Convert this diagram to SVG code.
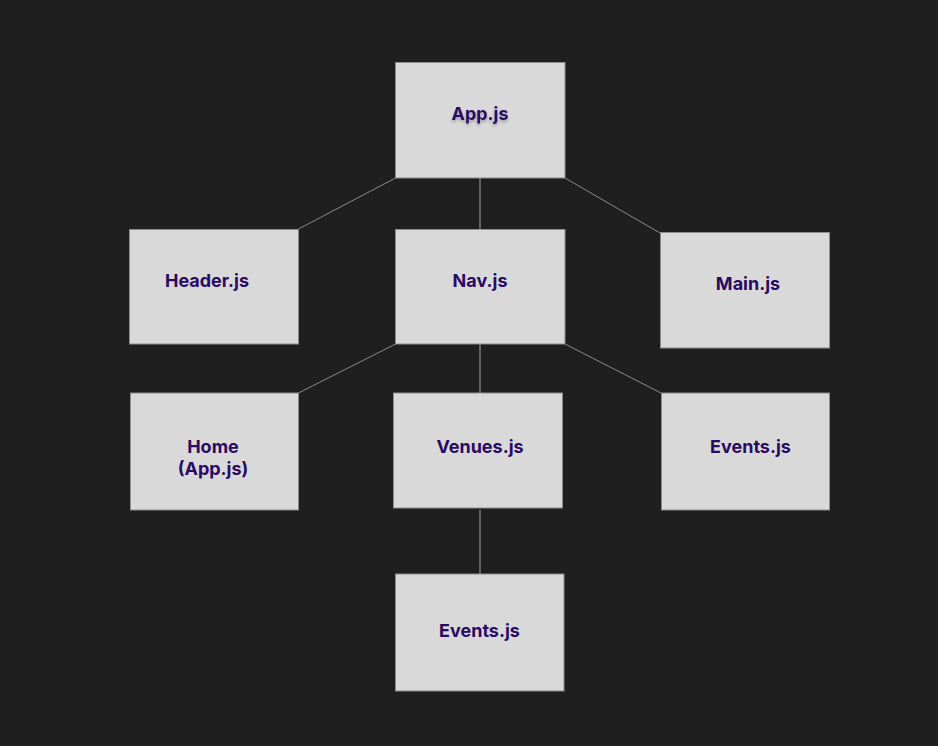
<svg xmlns="http://www.w3.org/2000/svg" width="938" height="746" viewBox="0 0 938 746">
<defs>
<style>
.box{fill:#d9d9d9;stroke:#8c8c8c;stroke-width:1}
.lbl{font-family:Inter,"Liberation Sans",sans-serif;font-weight:700;font-size:18px;fill:#2b0a62;text-anchor:middle}
.conn{stroke:#8a8a8a;stroke-width:1;fill:none}
.v{stroke:#7a7a7a;stroke-width:1.5}
</style>
<filter id="sh" x="-20%" y="-50%" width="140%" height="200%">
<feDropShadow dx="0" dy="2" stdDeviation="1.5" flood-color="#000" flood-opacity="0.3"/>
</filter>
</defs>
<rect width="938" height="746" fill="#1f1f1f"/>
<g id="connectors">
<line class="conn" x1="395.5" y1="178" x2="298.5" y2="229"/>
<line class="conn v" x1="480" y1="178" x2="480" y2="229"/>
<line class="conn" x1="565" y1="178" x2="660" y2="233"/>
<line class="conn" x1="395.5" y1="344" x2="298.5" y2="393"/>
<line class="conn v" x1="480" y1="344" x2="480" y2="393"/>
<line class="conn" x1="565" y1="344" x2="661" y2="393"/>
<line class="conn v" x1="480" y1="510" x2="480" y2="574"/>
</g>
<g id="app">
<rect class="box" x="395.5" y="62.5" width="169.5" height="115.5"/>
<text class="lbl" x="480" y="120" filter="url(#sh)">App.js</text>
</g>
<g id="header">
<rect class="box" x="129.5" y="229.5" width="169" height="114.5"/>
<text class="lbl" x="207" y="286.5">Header.js</text>
</g>
<g id="nav">
<rect class="box" x="395.5" y="229.5" width="169.5" height="114.5"/>
<text class="lbl" x="480" y="286.5">Nav.js</text>
</g>
<g id="main">
<rect class="box" x="660.5" y="232.5" width="169" height="115.5"/>
<text class="lbl" x="748" y="290">Main.js</text>
</g>
<g id="home">
<rect class="box" x="130.5" y="393" width="168" height="117"/>
<text class="lbl" x="213" y="452.5">Home</text>
<text class="lbl" x="213" y="475">(App.js)</text>
</g>
<g id="venues">
<rect class="box" x="393.5" y="393" width="169" height="115"/>
<text class="lbl" x="480" y="453">Venues.js</text>
</g>
<g id="events-right">
<rect class="box" x="661.5" y="393" width="168" height="117"/>
<text class="lbl" x="750.5" y="453">Events.js</text>
</g>
<g id="events-bottom">
<rect class="box" x="395.5" y="574" width="168.5" height="117"/>
<text class="lbl" x="479.5" y="637">Events.js</text>
</g>
</svg>
